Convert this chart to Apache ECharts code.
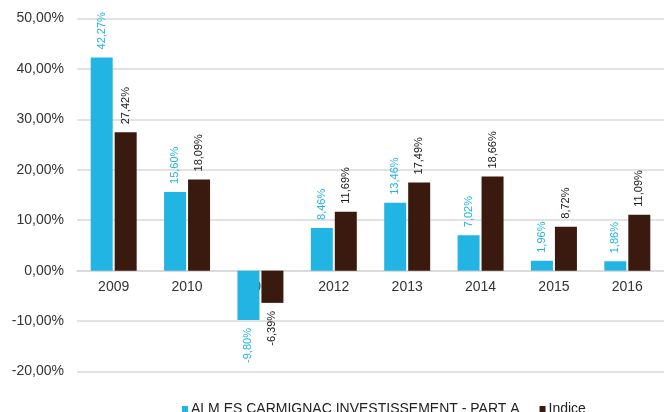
<!DOCTYPE html>
<html>
<head>
<meta charset="utf-8">
<script src="https://cdn.jsdelivr.net/npm/echarts@6/dist/echarts.min.js"></script>
<style>
  html, body { margin: 0; padding: 0; background: #fff; }
  #chart { width: 664px; height: 412px; }
</style>
</head>
<body>
<div id="chart"></div>
<script>
// data
var years = ['2009', '2010', '2011', '2012', '2013', '2014', '2015', '2016'];
var fundName = 'ALM ES CARMIGNAC INVESTISSEMENT - PART A';
var indexName = 'Indice';
var fundValues = [42.27, 15.60, -9.80, 8.46, 13.46, 7.02, 1.96, 1.86];
var indexValues = [27.42, 18.09, -6.39, 11.69, 17.49, 18.66, 8.72, 11.09];

var fundColor = '#22b4e2';
var indexColor = '#3a1a0e';

function pct(v) {
    return v.toFixed(2).replace('.', ',') + '%';
}

// negative bars get their label under the bar
function withLabels(values) {
    return values.map(function (v) {
        if (v < 0) {
            return {value: v, label: {position: 'bottom', align: 'right'}};
        }
        return v;
    });
}

function barSeries(name, values, color, labelColor) {
    return {
        name: name,
        type: 'bar',
        barWidth: 22,
        barGap: '9%',
        itemStyle: {color: color},
        label: {
            show: true,
            position: 'top',
            distance: 8,
            rotate: 90,
            align: 'left',
            verticalAlign: 'middle',
            color: labelColor,
            fontFamily: 'Liberation Sans, Arial, sans-serif',
            fontSize: 11,
            formatter: function (p) { return pct(p.value); }
        },
        data: withLabels(values)
    };
}

var myChart = echarts.init(document.getElementById('chart'));
var option = {
    animation: false,
    textStyle: {fontFamily: 'Liberation Sans, Arial, sans-serif'},
    grid: {left: 77, right: -1, top: 18.5, bottom: 40.5, containLabel: false},
    legend: {
        left: 177,
        top: 397,
        icon: 'rect',
        itemWidth: 6,
        itemHeight: 6,
        itemGap: 20,
        textStyle: {color: '#222', fontSize: 14, padding: [0, 0, 0, -2]},
        data: [fundName, indexName]
    },
    xAxis: {
        type: 'category',
        data: years,
        // labels sit under the zero line, not at the grid bottom
        offset: -101,
        axisLine: {onZero: false, lineStyle: {color: '#d9d9d9', width: 1.5}},
        axisTick: {show: false},
        axisLabel: {color: '#333', fontSize: 14, margin: 10}
    },
    yAxis: {
        type: 'value',
        min: -20,
        max: 50,
        interval: 10,
        axisLine: {show: false},
        axisTick: {show: false},
        splitLine: {lineStyle: {color: '#d9d9d9', width: 1.5}},
        axisLabel: {
            color: '#333',
            fontSize: 14,
            margin: 13,
            formatter: function (v) { return pct(v); }
        }
    },
    series: [
        barSeries(fundName, fundValues, fundColor, fundColor),
        barSeries(indexName, indexValues, indexColor, '#1a1a1a')
    ]
};
myChart.setOption(option);
</script>
</body>
</html>
